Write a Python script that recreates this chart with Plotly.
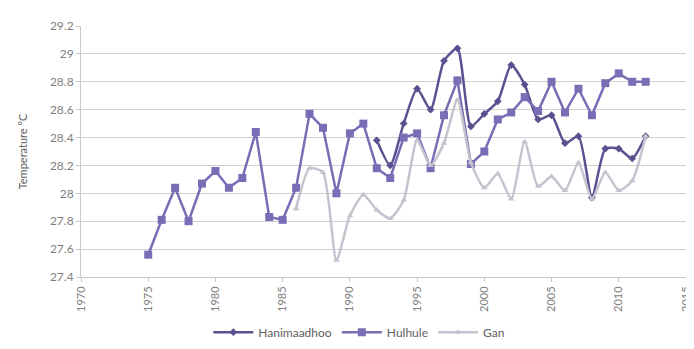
import plotly.graph_objects as go

# annual mean temperatures (deg C)
hulhule_years = list(range(1975, 2013))
hulhule = [27.56, 27.81, 28.04, 27.80, 28.07, 28.16, 28.04, 28.11, 28.44, 27.83,
           27.81, 28.04, 28.57, 28.47, 28.00, 28.43, 28.50, 28.18, 28.11, 28.40,
           28.43, 28.18, 28.56, 28.81, 28.21, 28.30, 28.53, 28.58, 28.69, 28.59,
           28.80, 28.58, 28.75, 28.56, 28.79, 28.86, 28.80, 28.80]

hani_years = list(range(1992, 2013))
hanimaadhoo = [28.38, 28.20, 28.50, 28.75, 28.60, 28.95, 29.04, 28.48, 28.57, 28.66,
               28.92, 28.78, 28.53, 28.56, 28.36, 28.41, 27.97, 28.32, 28.32, 28.25,
               28.41]

gan_years = list(range(1986, 2013))
gan = [27.89, 28.18, 28.15, 27.52, 27.84, 27.99, 27.88, 27.82, 27.95, 28.38,
       28.20, 28.36, 28.67, 28.22, 28.04, 28.14, 27.96, 28.37, 28.05, 28.12,
       28.02, 28.22, 27.96, 28.15, 28.02, 28.09, 28.41]

y_ticks = [27.4, 27.6, 27.8, 28, 28.2, 28.4, 28.6, 28.8, 29, 29.2]

fig = go.Figure()
fig.add_trace(go.Scatter(x=hani_years, y=hanimaadhoo, name="Hanimaadhoo", mode="lines+markers",
                         line=dict(color="#5a5290", width=2.5, shape="spline", smoothing=0.6),
                         marker=dict(symbol="diamond", size=6, color="#5a5290")))
fig.add_trace(go.Scatter(x=hulhule_years, y=hulhule, name="Hulhule", mode="lines+markers",
                         line=dict(color="#7a6cb5", width=2.5),
                         marker=dict(symbol="square", size=8, color="#7a6cb5")))
fig.add_trace(go.Scatter(x=gan_years, y=gan, name="Gan", mode="lines+markers",
                         line=dict(color="#c6c3cf", width=2.5, shape="spline", smoothing=0.6),
                         marker=dict(symbol="triangle-up", size=6, color="#c6c3cf")))

fig.update_layout(
    width=694, height=349,
    margin=dict(l=73, r=10, t=12, b=77),
    paper_bgcolor="white", plot_bgcolor="white",
    font=dict(family="Lato, Open Sans, sans-serif", size=11, color="#707070"),
    legend=dict(orientation="h", x=0.46, xanchor="center", y=-0.22, yanchor="middle",
                font=dict(size=12, color="#606060"), traceorder="normal",
                itemwidth=40),
)
fig.update_xaxes(range=[1970, 2015], dtick=5, tick0=1970, tickangle=-90,
                 showgrid=False, showline=True, linecolor="#c8c8c8", linewidth=1,
                 ticks="outside", tickcolor="#c8c8c8", ticklen=4, zeroline=False,
                 tickfont=dict(size=11, color="#808080"))
fig.update_yaxes(range=[27.4, 29.2], tickvals=y_ticks,
                 ticktext=[f"{v:g}" for v in y_ticks],
                 showgrid=True, gridcolor="#d0d0d0", gridwidth=1.2,
                 showline=True, linecolor="#c8c8c8", linewidth=1, zeroline=False,
                 ticks="outside", tickcolor="#c8c8c8", ticklen=4,
                 title=dict(text="Temperature °C", font=dict(size=11, color="#606060"), standoff=20),
                 tickfont=dict(size=12, color="#808080"))

fig.write_html("out.html")
